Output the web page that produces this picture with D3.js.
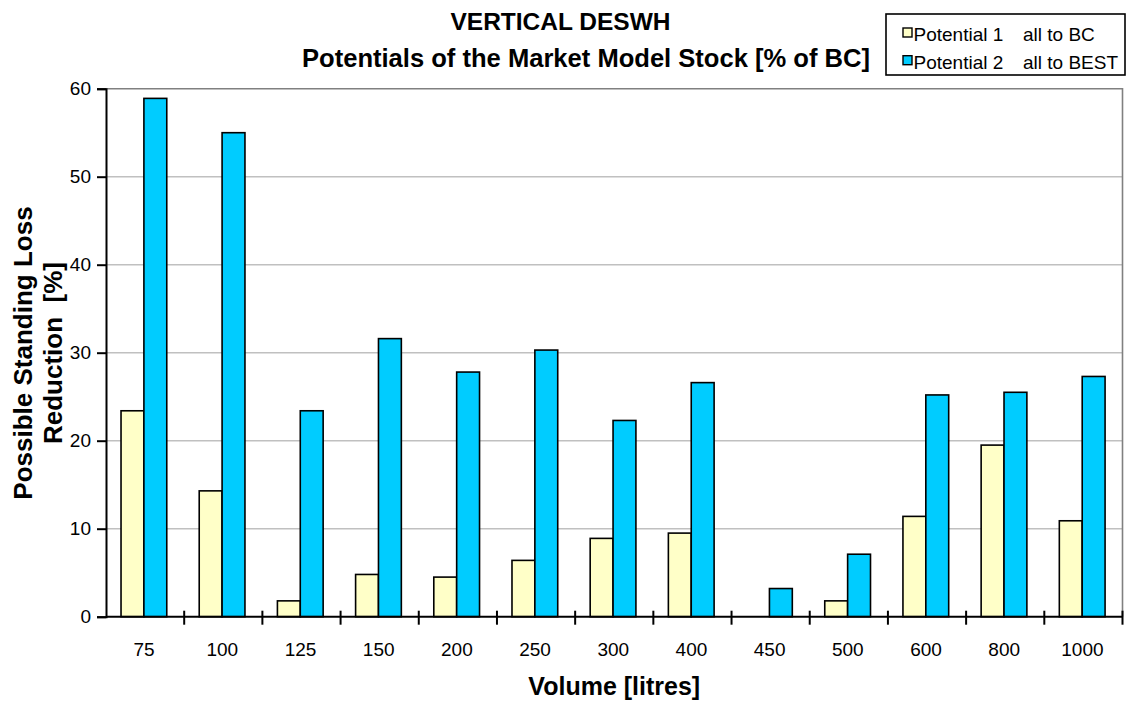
<!DOCTYPE html>
<html>
<head>
<meta charset="utf-8">
<script src="https://cdn.jsdelivr.net/npm/d3@7"></script>
<style>
  html, body { margin: 0; padding: 0; background: #ffffff; }
  svg { display: block; font-family: "Liberation Sans", Arial, Helvetica, sans-serif; }
</style>
</head>
<body>
<svg id="chart" width="1130" height="701"></svg>
<script>
// Storage volumes (litres) on the category axis
const volumes = ["75", "100", "125", "150", "200", "250", "300", "400", "450", "500", "600", "800", "1000"];

// Possible standing loss reduction [%] per volume class
const potential1 = [23.4, 14.3, 1.8, 4.8, 4.5, 6.4, 8.9, 9.5, 0, 1.8, 11.4, 19.5, 10.9];   // all to BC
const potential2 = [58.9, 55.0, 23.4, 31.6, 27.8, 30.3, 22.3, 26.6, 3.2, 7.1, 25.2, 25.5, 27.3]; // all to BEST

const seriesNames = ["Potential 1", "Potential 2"];
const seriesNotes = ["all to BC", "all to BEST"];
const seriesColors = ["#FFFFC8", "#00CCFF"];

const yTicks = [0, 10, 20, 30, 40, 50, 60];

const svg = d3.select("#chart");

// plot area
const plotL = 106, plotR = 1122.5, plotT = 88.7, plotB = 616.7;

const x0 = d3.scaleBand().domain(volumes).range([plotL, plotR]).paddingInner(0).paddingOuter(0);
const groupW = x0.bandwidth() * 0.585;
const x1 = d3.scaleBand().domain(seriesNames).range([0, groupW]).padding(0);
const y = d3.scaleLinear().domain([0, 60]).range([plotB, plotT]);

// horizontal gridlines
svg.append("g")
  .selectAll("line")
  .data(yTicks.filter(t => t > 0 && t < 60))
  .join("line")
  .attr("x1", plotL).attr("x2", plotR)
  .attr("y1", d => y(d)).attr("y2", d => y(d))
  .attr("stroke", "#c0c0c0")
  .attr("stroke-width", 1.4);

// plot-area frame (top and right)
svg.append("path")
  .attr("d", `M${plotL},${y(60)}H${plotR}V${plotB}`)
  .attr("fill", "none")
  .attr("stroke", "#808080")
  .attr("stroke-width", 1.6);

// bars
const rows = volumes.map((v, i) => ({ v, vals: [potential1[i], potential2[i]] }));
const groups = svg.append("g")
  .selectAll("g")
  .data(rows)
  .join("g")
  .attr("transform", d => `translate(${x0(d.v) + (x0.bandwidth() - groupW) / 2 - 1.2},0)`);

groups.selectAll("rect")
  .data(d => d.vals.map((val, k) => ({ val, k })).filter(e => e.val > 0))
  .join("rect")
  .attr("x", d => x1(seriesNames[d.k]))
  .attr("width", x1.bandwidth())
  .attr("y", d => y(d.val))
  .attr("height", d => y(0) - y(d.val))
  .attr("fill", d => seriesColors[d.k])
  .attr("stroke", "#000")
  .attr("stroke-width", 1.6);

// y axis
const yAxis = d3.axisLeft(y).tickValues(yTicks).tickSize(9).tickPadding(6).tickFormat(d3.format("d"));
const gy = svg.append("g").attr("transform", `translate(${plotL},0)`).call(yAxis);
gy.select(".domain").attr("stroke", "#000").attr("stroke-width", 2);
gy.selectAll(".tick line").attr("stroke", "#000").attr("stroke-width", 2);
gy.selectAll(".tick text").attr("font-size", 19).attr("fill", "#000")
  .attr("font-family", "'Liberation Sans', Arial, sans-serif");

// x axis: category boundary ticks crossing the axis
const gx = svg.append("g");
gx.append("line")
  .attr("x1", plotL).attr("x2", plotR)
  .attr("y1", plotB).attr("y2", plotB)
  .attr("stroke", "#000").attr("stroke-width", 2);
const boundaries = volumes.map(v => x0(v)).concat([x0(volumes[volumes.length - 1]) + x0.bandwidth()]);
gx.selectAll("line.tk")
  .data(boundaries.slice(1))
  .join("line")
  .attr("class", "tk")
  .attr("x1", d => d).attr("x2", d => d)
  .attr("y1", plotB - 6).attr("y2", plotB + 8)
  .attr("stroke", "#000").attr("stroke-width", 2);
gx.selectAll("text")
  .data(volumes)
  .join("text")
  .attr("x", d => x0(d) + x0.bandwidth() / 2 - 1)
  .attr("y", 656)
  .attr("text-anchor", "middle")
  .attr("font-size", 19)
  .attr("fill", "#000")
  .text(d => d);

// titles
svg.append("text")
  .attr("x", 560.5).attr("y", 29.5)
  .attr("text-anchor", "middle")
  .attr("font-size", 24.5).attr("font-weight", "bold")
  .text("VERTICAL DESWH");
svg.append("text")
  .attr("x", 586).attr("y", 66.5)
  .attr("text-anchor", "middle")
  .attr("font-size", 25).attr("font-weight", "bold")
  .attr("textLength", 568).attr("lengthAdjust", "spacingAndGlyphs")
  .text("Potentials of the Market Model Stock [% of BC]");

// x axis title
svg.append("text")
  .attr("x", (plotL + plotR) / 2).attr("y", 695)
  .attr("text-anchor", "middle")
  .attr("font-size", 25).attr("font-weight", "bold")
  .text("Volume [litres]");

// y axis title (two lines)
const yTitle = svg.append("text")
  .attr("transform", "translate(32,353) rotate(-90)")
  .attr("text-anchor", "middle")
  .attr("font-size", 26).attr("font-weight", "bold");
yTitle.append("tspan").attr("x", 0).attr("y", 0).text("Possible Standing Loss");
yTitle.append("tspan").attr("x", 0).attr("y", 30).attr("xml:space", "preserve").text("Reduction  [%]");

// legend
const lg = svg.append("g");
lg.append("rect")
  .attr("x", 886).attr("y", 14).attr("width", 239).attr("height", 61)
  .attr("fill", "#fff").attr("stroke", "#000").attr("stroke-width", 1.6);
const li = lg.selectAll("g.item")
  .data(seriesNames.map((n, k) => ({ n, k })))
  .join("g")
  .attr("class", "item")
  .attr("transform", d => `translate(0,${d.k * 27.7})`);
li.append("rect")
  .attr("x", 903).attr("y", 28).attr("width", 9).attr("height", 9)
  .attr("fill", d => seriesColors[d.k]).attr("stroke", "#000").attr("stroke-width", 1.4);
li.append("text")
  .attr("x", 913.5).attr("y", 41)
  .attr("font-size", 19)
  .text(d => d.n);
li.append("text")
  .attr("x", 1023).attr("y", 41)
  .attr("font-size", 19)
  .text(d => seriesNotes[d.k]);
</script>
</body>
</html>
